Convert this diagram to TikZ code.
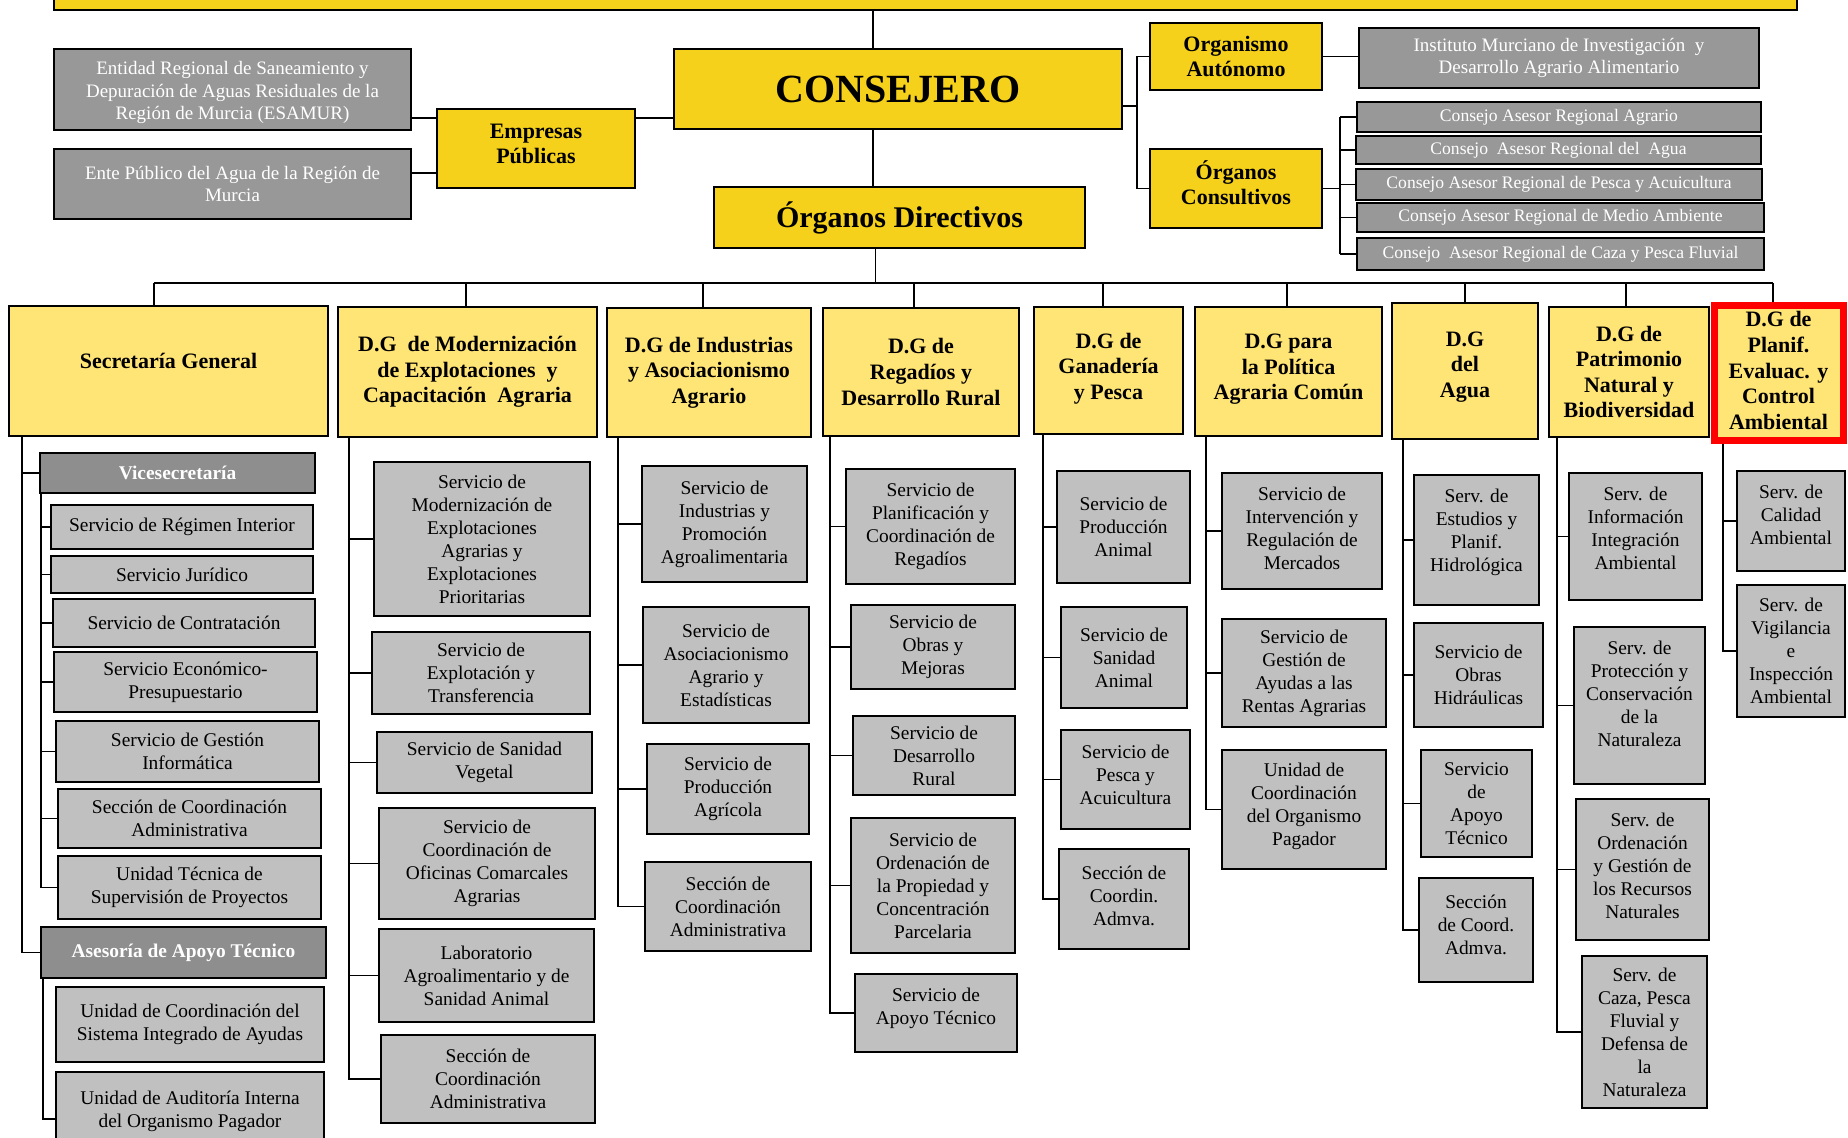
\documentclass[tikz,border=0pt]{standalone}
\usepackage{fontspec}
\setmainfont{Liberation Serif}
\usetikzlibrary{backgrounds}
\definecolor{ytop}{HTML}{F5D11B}
\definecolor{ydg}{HTML}{FFE476}
\definecolor{gdark}{HTML}{989898}
\definecolor{gmid}{HTML}{8E8E8E}
\definecolor{glight}{HTML}{C0C0C0}
\newcommand\bx[7]{\node[#2,minimum width={(#5-#3)*0.5pt},minimum height={(#6-#4)*0.5pt}] (#1) at ({(#3+#5)/2},{(#4+#6)/2}) {#7};}
% box whose text sits a little above the centre
\newcommand\bxt[8]{\node[#2,minimum width={(#5-#3)*0.5pt},minimum height={(#6-#4)*0.5pt}] (#1) at ({(#3+#5)/2},{(#4+#6)/2}) {};
  \node[#2,draw=none,fill=none,yshift=#7] (#1-t) at (#1.center) {#8};}
\newcommand\tk[3]{\draw[conn] ([xshift=#2]#1.south west) |- (#3.west);}
\begin{document}
\begin{tikzpicture}[x=0.5pt,y=-0.5pt,
 box/.style={draw=black,line width=0.9pt,inner sep=1pt,outer sep=0pt,align=center},
 ytopbox/.style={box,fill=ytop,font=\bfseries\fontsize{11}{12.5}\selectfont},
 dgbox/.style={box,fill=ydg,font=\bfseries\fontsize{11}{12.8}\selectfont},
 darkbox/.style={box,fill=gdark,text=white,font=\fontsize{9.5}{11.3}\selectfont},
 consbox/.style={box,fill=gdark,text=white,font=\fontsize{8.8}{10}\selectfont},
 midbox/.style={box,fill=gmid,text=white,font=\bfseries\fontsize{9.7}{11.5}\selectfont},
 svbox/.style={box,fill=glight,font=\fontsize{9.7}{11.5}\selectfont},
 conn/.style={draw=black,line width=0.9pt}]
\useasboundingbox (0,0) rectangle (1848,1138);
% top
\bx{topbar}{ytopbox}{54}{-30}{1797}{10}{}
\bxt{ent}{darkbox}{54}{49}{411}{130}{-1.5pt}{Entidad Regional de Saneamiento y\\Depuración de Aguas Residuales de la\\Región de Murcia (ESAMUR)}
\bx{ente}{darkbox}{54}{149}{411}{219}{Ente Público del Agua de la Región de\\Murcia}
\bxt{emp}{ytopbox}{437}{109}{635}{188}{2.5pt}{Empresas\\Públicas}
\bx{cons}{ytopbox,font=\bfseries\fontsize{20}{22}\selectfont}{674}{49}{1122}{129}{CONSEJERO}
\bx{odir}{ytopbox,font=\bfseries\fontsize{15}{17}\selectfont}{714}{187}{1085}{248}{Órganos Directivos}
\bx{orgA}{ytopbox}{1150}{23}{1322}{90}{Organismo\\Autónomo}
\bxt{orgC}{ytopbox}{1150}{149}{1322}{228}{3pt}{Órganos\\Consultivos}
\bx{inst}{darkbox}{1359}{28}{1759}{88}{Instituto Murciano de Investigación\ \ y\\Desarrollo Agrario Alimentario}
\bx{c1}{consbox}{1357}{102}{1761}{132}{Consejo Asesor Regional Agrario}
\bx{c2}{consbox}{1356}{136}{1761}{164}{Consejo\ \ Asesor Regional del\ \ Agua}
\bx{c3}{consbox}{1356}{169}{1762}{200}{Consejo Asesor Regional de Pesca y Acuicultura}
\bx{c4}{consbox}{1357}{203}{1764}{232}{Consejo Asesor Regional de Medio Ambiente}
\bx{c5}{consbox}{1357}{238}{1764}{270}{Consejo\ \ Asesor Regional de Caza y Pesca Fluvial}
% DG row
\bxt{secg}{dgbox}{9}{306}{328}{436}{5pt}{Secretaría General}
\bx{dg1}{dgbox}{338}{307}{597}{437}{D.G\ \ de Modernización\\de Explotaciones\ \ y\\Capacitación\ \ Agraria}
\bx{dg2}{dgbox}{607}{308}{811}{437}{D.G de Industrias\\y Asociacionismo\\Agrario}
\bx{dg3}{dgbox}{823}{308}{1019}{436}{D.G de\\Regadíos y\\Desarrollo Rural}
\bxt{dg4}{dgbox}{1034}{307}{1183}{434}{1pt}{D.G de\\Ganadería\\y Pesca}
\bxt{dg5}{dgbox}{1195}{307}{1382}{436}{1pt}{D.G para\\la Política\\Agraria Común}
\bxt{dg6}{dgbox}{1392}{303}{1538}{439}{2pt}{D.G\\del\\Agua}
\bx{dg7}{dgbox}{1549}{307}{1709}{437}{D.G de\\Patrimonio\\Natural y\\Biodiversidad}
\bxt{dg8}{dgbox,draw=red,line width=3.5pt}{1714}{306}{1843}{441}{1.5pt}{D.G de\\Planif.\\Evaluac. y\\Control\\Ambiental}
% Secretaria
\bx{vice}{midbox}{40}{453}{315}{493}{Vicesecretaría}
\bx{s1}{svbox}{51}{505}{313}{549}{Servicio de Régimen Interior}
\bx{s2}{svbox}{51}{556}{313}{593}{Servicio Jurídico}
\bx{s3}{svbox}{53}{599}{315}{647}{Servicio de Contratación}
\bx{s4}{svbox}{54}{652}{317}{712}{Servicio Económico-\\Presupuestario}
\bx{s5}{svbox}{56}{721}{319}{782}{Servicio de Gestión\\Informática}
\bx{s6}{svbox}{58}{789}{321}{848}{Sección de Coordinación\\Administrativa}
\bx{s7}{svbox}{58}{856}{321}{919}{Unidad Técnica de\\Supervisión de Proyectos}
\bx{ases}{midbox}{41}{927}{326}{978}{Asesoría de Apoyo Técnico}
\bx{s8}{svbox}{56}{987}{324}{1062}{Unidad de Coordinación del\\Sistema Integrado de Ayudas}
\bx{s9}{svbox}{56}{1072}{324}{1150}{Unidad de Auditoría Interna\\del Organismo Pagador}
% DG1
\bx{m1}{svbox}{374}{462}{590}{616}{Servicio de\\Modernización de\\Explotaciones\\Agrarias y\\Explotaciones\\Prioritarias}
\bx{m2}{svbox}{372}{632}{590}{714}{Servicio de\\Explotación y\\Transferencia}
\bx{m3}{svbox}{377}{732}{592}{793}{Servicio de Sanidad\\Vegetal}
\bx{m4}{svbox}{379}{808}{595}{919}{Servicio de\\Coordinación de\\Oficinas Comarcales\\Agrarias}
\bx{m5}{svbox}{379}{929}{594}{1022}{Laboratorio\\Agroalimentario y de\\Sanidad Animal}
\bx{m6}{svbox}{381}{1035}{595}{1123}{Sección de\\Coordinación\\Administrativa}
% DG2
\bx{i1}{svbox}{642}{466}{807}{582}{Servicio de\\Industrias y\\Promoción\\Agroalimentaria}
\bx{i2}{svbox}{643}{607}{809}{723}{Servicio de\\Asociacionismo\\Agrario y\\Estadísticas}
\bx{i3}{svbox}{647}{744}{809}{834}{Servicio de\\Producción\\Agrícola}
\bx{i4}{svbox}{645}{862}{811}{951}{Sección de\\Coordinación\\Administrativa}
% DG3
\bx{r1}{svbox}{846}{469}{1015}{584}{Servicio de\\Planificación y\\Coordinación de\\Regadíos}
\bx{r2}{svbox}{851}{605}{1015}{689}{Servicio de\\Obras y\\Mejoras}
\bx{r3}{svbox}{853}{716}{1015}{795}{Servicio de\\Desarrollo\\Rural}
\bx{r4}{svbox}{851}{818}{1015}{953}{Servicio de\\Ordenación de\\la Propiedad y\\Concentración\\Parcelaria}
\bxt{r5}{svbox}{855}{974}{1017}{1052}{2.5pt}{Servicio de\\Apoyo Técnico}
% DG4
\bx{g1}{svbox}{1057}{471}{1190}{583}{Servicio de\\Producción\\Animal}
\bx{g2}{svbox}{1061}{607}{1187}{708}{Servicio de\\Sanidad\\Animal}
\bxt{g3}{svbox}{1061}{730}{1190}{829}{2.5pt}{Servicio de\\Pesca y\\Acuicultura}
\bxt{g4}{svbox}{1059}{849}{1189}{949}{1.5pt}{Sección de\\Coordin.\\Admva.}
% DG5
\bxt{p1}{svbox}{1222}{473}{1382}{589}{1.5pt}{Servicio de\\Intervención y\\Regulación de\\Mercados}
\bx{p2}{svbox}{1222}{619}{1386}{727}{Servicio de\\Gestión de\\Ayudas a las\\Rentas Agrarias}
\bxt{p3}{svbox}{1222}{750}{1386}{869}{1.5pt}{Unidad de\\Coordinación\\del Organismo\\Pagador}
% DG6
\bxt{a1}{svbox}{1414}{475}{1539}{605}{4pt}{Serv. de\\Estudios y\\Planif.\\Hidrológica}
\bx{a2}{svbox}{1414}{623}{1543}{727}{Servicio de\\Obras\\Hidráulicas}
\bx{a3}{svbox}{1421}{750}{1532}{857}{Servicio\\de\\Apoyo\\Técnico}
\bxt{a4}{svbox}{1419}{878}{1533}{982}{2.5pt}{Sección\\de Coord.\\Admva.}
% DG7
\bxt{n1}{svbox}{1569}{473}{1702}{600}{4pt}{Serv. de\\Información\\Integración\\Ambiental}
\bxt{n2}{svbox}{1574}{627}{1705}{784}{6pt}{Serv. de\\Protección y\\Conservación\\de la\\Naturaleza}
\bxt{n3}{svbox}{1576}{799}{1709}{940}{2pt}{Serv. de\\Ordenación\\y Gestión de\\los Recursos\\Naturales}
\bx{n4}{svbox}{1582}{956}{1707}{1108}{Serv. de\\Caza, Pesca\\Fluvial y\\Defensa de\\la\\Naturaleza}
% DG8
\bxt{e1}{svbox}{1737}{471}{1845}{571}{3pt}{Serv. de\\Calidad\\Ambiental}
\bx{e2}{svbox}{1737}{585}{1845}{717}{Serv. de\\Vigilancia\\e\\Inspección\\Ambiental}
\begin{pgfonlayer}{background}
\fill[white] (0,0) rectangle (1848,1138);
\coordinate (bus) at (0,283);
% top connectors
\draw[conn] ([xshift=-12.5pt]cons.north) -- ([xshift=-12.5pt]cons.north |- topbar.south);
\draw[conn] ([xshift=-12.5pt]cons.south) -- ([xshift=-12.5pt]cons.south |- odir.north);
\draw[conn] ([xshift=-12pt]odir.south) -- ([xshift=-12pt]odir.south |- bus);
\draw[conn] ([yshift=15.25pt]emp.west) -- ([yshift=15.25pt]emp.west -| ent.east);
\draw[conn] ([yshift=-12.25pt]emp.west) -- ([yshift=-12.25pt]emp.west -| ente.east);
\draw[conn] ([yshift=15.25pt]emp.east) -- ([yshift=15.25pt]emp.east -| cons.west);
\draw[conn] ([yshift=-8.5pt]cons.east) -- ++(7.5pt,0);
\draw[conn] (orgA.west) -- ++(-6.5pt,0) |- (orgC.west);
\draw[conn] (orgA.east) -- (orgA.east -| inst.west);
\draw[conn] (orgC.east) -- ++(9pt,0);
\draw[conn] ([xshift=-8.5pt]c1.west) -- ([xshift=-8.5pt]c1.west |- c5.west);
\foreach \c in {c1,c2,c3,c4,c5} \draw[conn] ([xshift=-8.5pt]\c.west) -- (\c.west);
% bus
\draw[conn] ([xshift=-7.25pt]secg.north |- bus) -- ([xshift=-2.75pt]dg8.north |- bus);
\foreach \n/\s in {secg/-7.25pt,dg1/-0.75pt,dg2/-3pt,dg3/-3.5pt,dg4/-2.75pt,dg5/-0.75pt,dg6/0pt,dg7/-1.5pt,dg8/-2.75pt}
  \draw[conn] ([xshift=\s]\n.north) -- ([xshift=\s]\n.north |- bus);
% trunks
\tk{secg}{6.5pt}{vice}
\tk{secg}{6.5pt}{ases}
\foreach \c in {s1,s2,s3,s4,s5,s6,s7} {\tk{vice}{0.5pt}{\c}}
\draw[conn] ([xshift=1pt]ases.south west) |- ([yshift=-4pt]s9.west);
\foreach \c in {m1,m2,m3,m4,m5,m6} {\tk{dg1}{5.5pt}{\c}}
\foreach \c in {i1,i2,i3,i4} {\tk{dg2}{5.5pt}{\c}}
\foreach \c in {r1,r2,r3,r4,r5} {\tk{dg3}{3.5pt}{\c}}
\foreach \c in {g1,g2,g3,g4} {\tk{dg4}{4.5pt}{\c}}
\foreach \c in {p1,p2,p3} {\tk{dg5}{5.5pt}{\c}}
\foreach \c in {a1,a2,a3,a4} {\tk{dg6}{5.5pt}{\c}}
\foreach \c in {n1,n2,n3,n4} {\tk{dg7}{4pt}{\c}}
\foreach \c in {e1,e2} {\tk{dg8}{4.5pt}{\c}}
\end{pgfonlayer}
\end{tikzpicture}
\end{document}
